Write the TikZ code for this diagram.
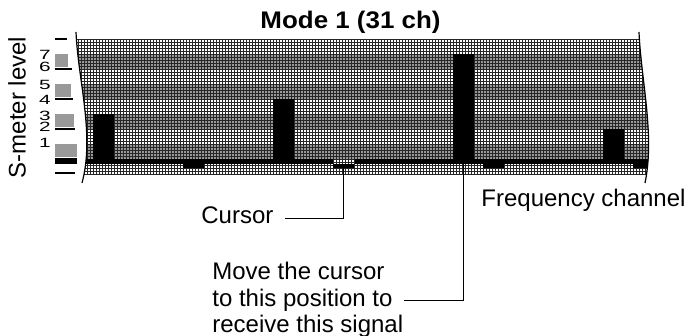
\documentclass[tikz,border=0pt]{standalone}
\usepackage{fontspec}
\setmainfont{Liberation Sans}
\usepackage{tikz}
\usetikzlibrary{calc, positioning}

\begin{document}
\begin{tikzpicture}[x=0.5pt, y=0.5pt,
  txt/.style={inner sep=0pt, font=\fontsize{12}{13.25}\selectfont},
  head/.style={inner sep=0pt, font=\fontsize{12}{14}\selectfont\bfseries},
  digit/.style={inner sep=0pt, xscale=1.55, font=\fontsize{6.7}{7}\selectfont},
  band/.style={fill=black!40},
  meshline/.style={draw=black!85, line width=0.25pt},
  tick/.style={line width=0.8pt},
  brk/.style={line width=0.6pt},
  lead/.style={line width=0.65pt}]
  \useasboundingbox (0,0) rectangle (689,336);
  \begin{scope}
    \clip (76,304) .. controls (78,256) and (95,201) .. (82,153) -- (645,153) .. controls (655,201) and (641,256) .. (639,304) -- cycle;
    \fill[white] (60,162) rectangle (660,297);
    \foreach \y in {177,207,237,267} \fill[band] (60,\y) rectangle (660,\y+15);
    \draw[meshline, step=3] (60,162) grid (660,297);
    \fill (60,172) rectangle (660,177);
    \foreach \k/\lev in {0/3, 6/4, 12/7, 17/2} \fill (93+30*\k,177) rectangle (114+30*\k,177+15*\lev);
    \foreach \k in {3,13,18} \fill (93+30*\k,168) rectangle (114+30*\k,177);
    \fill (333,168) rectangle (354,177);
    \fill[white] (333,172) rectangle (354,177);
    \draw[meshline, step=3] (333,172) grid (354,177);
  \end{scope}
  \draw[brk] (76,304) .. controls (78,256) and (95,201) .. (82,153);
  \draw[brk] (639,304) .. controls (641,256) and (655,201) .. (645,153);
  \foreach \y/\r in {297/67, 267/72, 237/73, 207/75, 163/75} \draw[tick] (55,\y) -- (\r,\y);
  \foreach \y/\r in {269/68, 239/71, 209/74, 179/77} \fill[band] (55,\y) rectangle (\r,\y+13);
  \fill (55,172) rectangle (77,178);
  \foreach \n/\y in {7/280.7, 6/269.3, 5/251, 4/236, 3/220, 2/209.3, 1/193} \node[digit] (lev_\n) at (45,\y) {\n};
  \node[head, anchor=base, xscale=1.08] (title) at (350.5,307) {Mode 1 (31 ch)};
  \node[txt, rotate=90] (s_label) at (17,228.5) {S-meter level};
  \node[txt, anchor=base west] (freq_label) at (481,129) {Frequency channel};
  \node[txt, anchor=base west] (cursor_label) at (201,112) {Cursor};
  \node[txt, anchor=base west, align=left] (sig_label) at (212,3) {Move the cursor\\to this position to\\receive this signal};
  \coordinate (cursor) at (343.5,168);
  \coordinate (peak_foot) at (463.5,172);
  \draw[lead, shorten >=5.5pt] (cursor) |- ([yshift=-1.3pt]cursor_label.east);
  \draw[lead] (peak_foot) |- (sig_label.east);
\end{tikzpicture}
\end{document}
